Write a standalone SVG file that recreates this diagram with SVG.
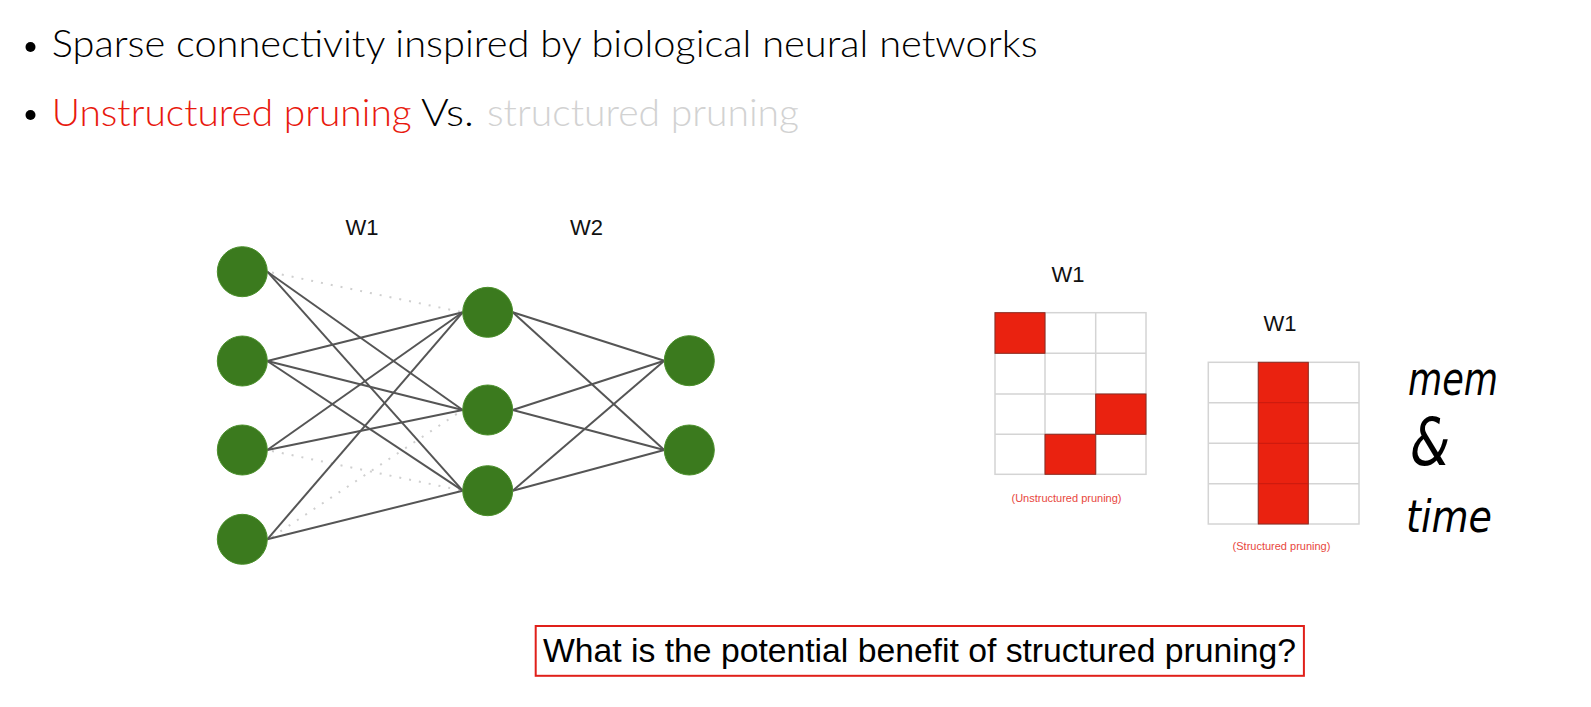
<svg xmlns="http://www.w3.org/2000/svg" width="1591" height="707" viewBox="0 0 1591 707">
  <style>
    .bullet-text { font-family: Lato, "Noto Sans", sans-serif; font-size: 38px; font-weight: 300; }
    .lbl { font-family: "Liberation Sans", Arial, sans-serif; font-size: 22px; fill: #111; text-anchor: middle; }
    .cap { font-family: "Liberation Sans", Arial, sans-serif; font-size: 11px; fill: #e8473d; text-anchor: middle; }
    .neuron { fill: #3b7a1e; stroke: #4a8f2a; stroke-width: 1; }
    .edge { stroke: #555; stroke-width: 2; fill: none; }
    .pruned { stroke: #cfcfcf; stroke-width: 2; stroke-dasharray: 2 8; fill: none; }
    .grid { stroke: #d4d4d4; stroke-width: 1.5; fill: none; }
    .hot { fill: #ea2210; stroke: #8e2a20; stroke-width: 1; }
    .hand { font-family: "DejaVu Sans", sans-serif; font-style: oblique; fill: #000; }
  </style>

  <rect width="1591" height="707" fill="#fff"/>

  <!-- bullet points -->
  <g id="bullets">
    <circle cx="30.5" cy="47" r="5" fill="#000"/>
    <text class="bullet-text" x="51.7" y="57" fill="#000" textLength="986" lengthAdjust="spacingAndGlyphs">Sparse connectivity inspired by biological neural networks</text>
    <circle cx="30.5" cy="115" r="5" fill="#000"/>
    <text class="bullet-text" x="51.7" y="126" fill="#e8190e" textLength="360" lengthAdjust="spacingAndGlyphs">Unstructured pruning</text>
    <text class="bullet-text" x="421" y="126" fill="#000" textLength="53" lengthAdjust="spacingAndGlyphs">Vs.</text>
    <text class="bullet-text" x="487" y="126" fill="#d2d2d2" textLength="312" lengthAdjust="spacingAndGlyphs">structured pruning</text>
  </g>

  <!-- layer labels -->
  <text id="label-w1" class="lbl" x="362" y="235">W1</text>
  <text id="label-w2" class="lbl" x="586.5" y="235">W2</text>

  <!-- connections -->
  <g id="connectors">
    <!-- pruned (removed) weights in W1 -->
    <line class="pruned" x1="272" y1="272.5" x2="462.7" y2="312.3"/>
    <line class="pruned" x1="272" y1="451" x2="462.7" y2="490.7"/>
    <line class="pruned" x1="272" y1="537" x2="462.7" y2="410"/>
    <!-- remaining W1 weights -->
    <line class="edge" x1="267.3" y1="271.7" x2="462.7" y2="410"/>
    <line class="edge" x1="267.3" y1="271.7" x2="462.7" y2="490.7"/>
    <line class="edge" x1="267.3" y1="361" x2="462.7" y2="312.3"/>
    <line class="edge" x1="267.3" y1="361" x2="462.7" y2="410"/>
    <line class="edge" x1="267.3" y1="361" x2="462.7" y2="490.7"/>
    <line class="edge" x1="267.3" y1="450" x2="462.7" y2="312.3"/>
    <line class="edge" x1="267.3" y1="450" x2="462.7" y2="410"/>
    <line class="edge" x1="267.3" y1="539.3" x2="462.7" y2="312.3"/>
    <line class="edge" x1="267.3" y1="539.3" x2="462.7" y2="490.7"/>
    <!-- W2 weights -->
    <line class="edge" x1="512.7" y1="312.3" x2="664.3" y2="360.7"/>
    <line class="edge" x1="512.7" y1="312.3" x2="664.3" y2="450"/>
    <line class="edge" x1="512.7" y1="410" x2="664.3" y2="360.7"/>
    <line class="edge" x1="512.7" y1="410" x2="664.3" y2="450"/>
    <line class="edge" x1="512.7" y1="490.7" x2="664.3" y2="360.7"/>
    <line class="edge" x1="512.7" y1="490.7" x2="664.3" y2="450"/>
  </g>

  <!-- input layer -->
  <g id="in-1"><circle class="neuron" cx="242.3" cy="271.7" r="25"/></g>
  <g id="in-2"><circle class="neuron" cx="242.3" cy="361" r="25"/></g>
  <g id="in-3"><circle class="neuron" cx="242.3" cy="450" r="25"/></g>
  <g id="in-4"><circle class="neuron" cx="242.3" cy="539.3" r="25"/></g>
  <!-- hidden layer -->
  <g id="hid-1"><circle class="neuron" cx="487.7" cy="312.3" r="25"/></g>
  <g id="hid-2"><circle class="neuron" cx="487.7" cy="410" r="25"/></g>
  <g id="hid-3"><circle class="neuron" cx="487.7" cy="490.7" r="25"/></g>
  <!-- output layer -->
  <g id="out-1"><circle class="neuron" cx="689.3" cy="360.7" r="25"/></g>
  <g id="out-2"><circle class="neuron" cx="689.3" cy="450" r="25"/></g>

  <!-- unstructured pruning matrix -->
  <g id="matrix-unstructured">
    <text class="lbl" x="1068" y="281.7" font-size="23">W1</text>
    <rect class="grid" x="995" y="312.7" width="151" height="161.6"/>
    <path class="grid" d="M1045 312.7V474.3M1095.7 312.7V474.3M995 353.3H1146M995 394H1146M995 434.3H1146"/>
    <rect class="hot" x="995" y="312.7" width="50" height="40.6"/>
    <rect class="hot" x="1095.7" y="394" width="50.3" height="40.3"/>
    <rect class="hot" x="1045" y="434.3" width="50.7" height="40"/>
    <text class="cap" x="1066.5" y="502.3">(Unstructured pruning)</text>
  </g>

  <!-- structured pruning matrix -->
  <g id="matrix-structured">
    <text class="lbl" x="1280" y="330.7">W1</text>
    <rect class="grid" x="1208.3" y="362.3" width="150.7" height="161.7"/>
    <path class="grid" d="M1258.3 362.3V524M1308.3 362.3V524M1208.3 402.7H1359M1208.3 443.3H1359M1208.3 483.7H1359"/>
    <rect class="hot" x="1258.3" y="362.3" width="50" height="161.7"/>
    <path d="M1258.3 402.7H1308.3M1258.3 443.3H1308.3M1258.3 483.7H1308.3" stroke="#c81a0e" stroke-width="1" fill="none"/>
    <text class="cap" x="1281.5" y="550">(Structured pruning)</text>
  </g>

  <!-- handwritten note -->
  <g id="note">
    <text class="hand" x="1408" y="395" font-size="46" textLength="90" lengthAdjust="spacingAndGlyphs">mem</text>
    <text class="hand" x="1410" y="465" font-size="66" textLength="40" lengthAdjust="spacingAndGlyphs">&amp;</text>
    <text class="hand" x="1406" y="532" font-size="44" textLength="86" lengthAdjust="spacingAndGlyphs">time</text>
  </g>

  <!-- question box -->
  <g id="question">
    <rect x="535.7" y="626" width="768.2" height="49.8" fill="#fff" stroke="#e0201a" stroke-width="2"/>
    <text x="543" y="662" font-family="'Liberation Sans', Arial, sans-serif" font-size="33" fill="#000" textLength="753" lengthAdjust="spacingAndGlyphs">What is the potential benefit of structured pruning?</text>
  </g>
</svg>
